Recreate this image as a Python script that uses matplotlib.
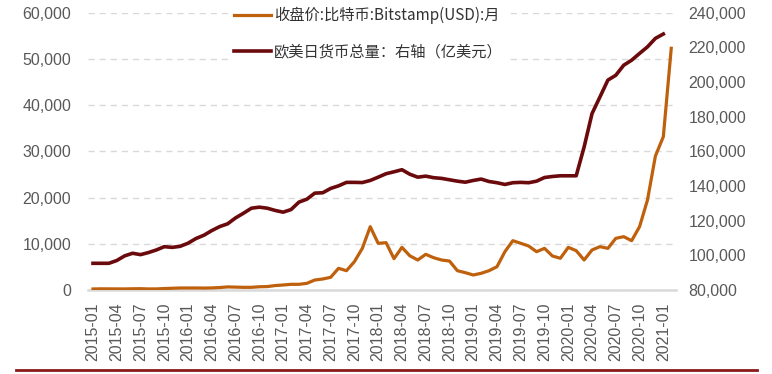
import matplotlib
matplotlib.use("Agg")
import matplotlib.pyplot as plt
import numpy as np
from matplotlib.lines import Line2D

plt.rcParams['font.family'] = ['Liberation Sans', 'Noto Sans CJK SC', 'DejaVu Sans']

# Monthly, 2015-01 .. 2021-02
months = [f"{y}-{m:02d}" for y in range(2015, 2022) for m in range(1, 13)][:74]

# Bitcoin close price (USD), left axis
btc = [218, 254, 244, 236, 230, 264, 284, 230, 236, 314, 377, 430,
       434, 437, 416, 448, 531, 671, 624, 573, 580, 701, 740, 963,
       1080, 1230, 1230, 1440, 2160, 2380, 2740, 4690, 4180, 6130, 9010, 13700,
       10100, 10240, 6780, 9230, 7400, 6490, 7720, 6990, 6490, 6270, 4180, 3750,
       3250, 3610, 4180, 5040, 8290, 10670, 10100, 9520, 8290, 9010, 7360, 6860,
       9230, 8510, 6490, 8660, 9380, 9010, 11180, 11540, 10670, 13700, 19470, 28990,
       33170, 52300]

# Money supply US+EU+JP (100 million USD), right axis
money = [95400, 95400, 95400, 97000, 99700, 101200, 100400, 101600, 103100, 105000, 104600, 105200,
         107000, 109700, 111600, 114300, 116600, 118200, 121600, 124300, 127200, 127800, 127200, 125900,
         124900, 126400, 130700, 132400, 135900, 136100, 138600, 140100, 142100, 142100, 142000, 143200,
         145100, 147100, 148200, 149400, 146800, 145100, 145700, 144800, 144400, 143600, 142800, 142200,
         143200, 144000, 142600, 141900, 140900, 141900, 142100, 141900, 142800, 144900, 145500, 145900,
         145900, 145900, 162500, 181800, 191400, 201100, 203900, 209700, 212600, 216500, 220300, 225200,
         227700, np.nan]

label_btc = "收盘价:比特币:Bitstamp(USD):月"
label_money = "欧美日货币总量：右轴（亿美元）"

c_btc = "#BF600C"
c_money = "#6B0A0C"
tick_color = "#595959"

fig = plt.figure(figsize=(7.72, 3.74), dpi=100)
ax = fig.add_axes([88/772, 1 - 290/374, (676-88)/772, (290-12.7)/374])
ax2 = ax.twinx()

x = np.arange(len(months))
l1, = ax.plot(x, btc, color=c_btc, lw=2.3, solid_joinstyle='round', zorder=3)
l2, = ax2.plot(x, money, color=c_money, lw=2.6, solid_joinstyle='round', zorder=3)

ax.set_xlim(-0.63, 73.6)
ax.set_ylim(0, 60000)
ax2.set_ylim(80000, 240000)

ax.set_yticks(np.arange(0, 60001, 10000))
ax.set_yticklabels([f"{v:,}" for v in range(0, 60001, 10000)])
ax2.set_yticks(np.arange(80000, 240001, 20000))
ax2.set_yticklabels([f"{v:,}" for v in range(80000, 240001, 20000)])

xt = list(range(0, 73, 3))
ax.set_xticks(xt)
ax.set_xticklabels([months[i] for i in xt], rotation=90)

for a in (ax, ax2):
    for s in a.spines.values():
        s.set_visible(False)
ax.spines['bottom'].set_visible(True)
ax.spines['bottom'].set_color('#D9D9D9')
ax.spines['bottom'].set_linewidth(1.8)

ax.yaxis.grid(True, color='#D9D9D9', lw=1.0, linestyle=(0, (4.5, 3.5)))
ax.set_axisbelow(True)

ax.tick_params(axis='y', length=0, pad=12, labelsize=11.5, labelcolor=tick_color)
ax.tick_params(axis='x', length=0, pad=9, labelsize=11.5, labelcolor=tick_color)
ax2.tick_params(axis='y', length=0, pad=9, labelsize=11.5, labelcolor=tick_color)

leg = ax2.legend([l1, l2], [label_btc, label_money], loc='upper left',
                 bbox_to_anchor=(227/772, 1.0), bbox_transform=fig.transFigure,
                 frameon=True, fancybox=False, edgecolor='none', facecolor='white',
                 framealpha=1.0, borderaxespad=0.15, borderpad=0.3,
                 handlelength=2.4, handletextpad=0.2, labelspacing=1.25,
                 prop={'family': ['Noto Sans CJK SC', 'DejaVu Sans'], 'size': 11})
for t in leg.get_texts():
    t.set_color('#333333')
leg.set_zorder(10)

fig.add_artist(Line2D([16/772, 757/772], [1 - 370/374, 1 - 370/374],
                      color='#8B1A1A', lw=2.0))

fig.savefig("out.png", dpi=100)
